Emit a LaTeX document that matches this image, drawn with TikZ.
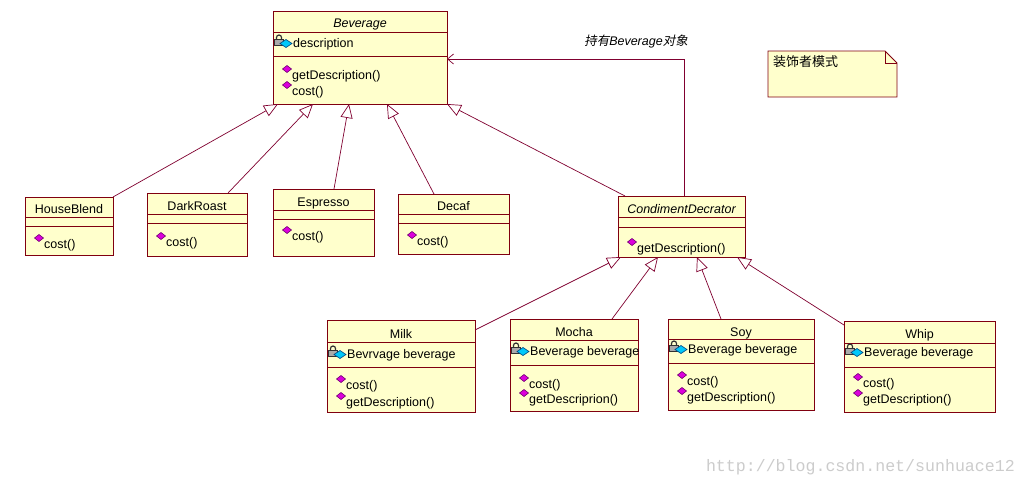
\documentclass[tikz,border=0pt]{standalone}
\usepackage{fontspec}
\setmainfont{Liberation Sans}
\newfontfamily\cjk{Noto Sans CJK SC}
\newfontfamily\cjkslant[FakeSlant=0.2]{Noto Sans CJK SC}
\newfontfamily\wmfont{Liberation Mono}
\usepackage{xcolor}
\usepackage{tikz}
\usetikzlibrary{arrows.meta}
\definecolor{clsfill}{RGB}{255,255,204}
\definecolor{clsdraw}{RGB}{128,0,16}
\definecolor{linecol}{RGB}{128,0,48}
\definecolor{opfill}{RGB}{220,0,220}
\definecolor{opdraw}{RGB}{110,0,110}
\definecolor{lockfill}{RGB}{170,170,170}
\definecolor{lockdraw}{RGB}{50,50,50}
\definecolor{keyfill}{RGB}{0,200,250}
\definecolor{keydraw}{RGB}{0,70,130}
\newcommand{\umlfont}{\fontsize{12.5}{15}\selectfont}
\tikzset{
  cls/.style={draw=clsdraw, fill=clsfill, line width=0.8pt, anchor=north west, inner sep=0pt, outer sep=0pt},
  cline/.style={draw=clsdraw, line width=0.8pt},
  ttl/.style={anchor=base, inner sep=0pt, font=\umlfont},
  mem/.style={anchor=base west, inner sep=0pt, font=\umlfont},
  gen/.style={draw=linecol, line width=0.7pt, -{Triangle[open, length=14pt, width=12pt]}},
  assoc/.style={draw=linecol, line width=0.7pt, -{Straight Barb[length=6pt, width=10pt]}},
  opicon/.pic={\filldraw[fill=opfill, draw=opdraw, line width=0.6pt] (-4.5,0) -- (0,-3.5) -- (4.5,0) -- (0,3.5) -- cycle;},
  attricon/.pic={
    \draw[draw=lockdraw, line width=1.2pt] (-7.5,-1) -- (-7.5,-3.5) arc[start angle=180, end angle=360, radius=2.5] -- (-2.5,-1);
    \filldraw[fill=lockfill, draw=lockdraw, line width=0.7pt] (-9.5,-1.5) rectangle (-0.5,4.5);
    \filldraw[fill=keyfill, draw=keydraw, line width=0.6pt] (-4,2.5) -- (2,-1.5) -- (8,2.5) -- (2,6.5) -- cycle;},
}
% one member line: name, box left, baseline, text
\newcommand{\attritem}[4]{%
  \pic at (#2+11,#3-6) {attricon};
  \node[mem] (#1) at (#2+20,#3) {#4};}
\newcommand{\opitem}[4]{%
  \pic at (#2+14,#3-10) {opicon};
  \node[mem] (#1) at (#2+19,#3) {#4};}

\begin{document}
\begin{tikzpicture}[x=1pt,y=-1pt]
  \useasboundingbox[fill=white] (0,0) rectangle (1027,485);
  %
  % Beverage
  \node[cls, minimum width=174pt, minimum height=93pt] (bev) at (273,11) {};
  \draw[cline] (bev.west |- 0,32) -- (bev.east |- 0,32);
  \draw[cline] (bev.west |- 0,56) -- (bev.east |- 0,56);
  \node[ttl] (bev-t) at (bev.north |- 0,27) {\itshape Beverage};
  \attritem{bev-a}{273}{47}{description}
  \opitem{bev-m1}{273}{79}{getDescription()}
  \opitem{bev-m2}{273}{95}{cost()}
  %
  % concrete beverages
  \node[cls, minimum width=88pt, minimum height=58pt] (hb) at (25,197) {};
  \draw[cline] (hb.west |- 0,217) -- (hb.east |- 0,217);
  \draw[cline] (hb.west |- 0,226) -- (hb.east |- 0,226);
  \node[ttl] (hb-t) at (hb.north |- 0,213) {HouseBlend};
  \opitem{hb-m1}{25}{248}{cost()}
  %
  \node[cls, minimum width=100pt, minimum height=63pt] (dr) at (147,193) {};
  \draw[cline] (dr.west |- 0,214) -- (dr.east |- 0,214);
  \draw[cline] (dr.west |- 0,223) -- (dr.east |- 0,223);
  \node[ttl] (dr-t) at (dr.north |- 0,210) {DarkRoast};
  \opitem{dr-m1}{147}{246}{cost()}
  %
  \node[cls, minimum width=101pt, minimum height=67pt] (es) at (273,189) {};
  \draw[cline] (es.west |- 0,210) -- (es.east |- 0,210);
  \draw[cline] (es.west |- 0,219) -- (es.east |- 0,219);
  \node[ttl] (es-t) at (es.north |- 0,206) {Espresso};
  \opitem{es-m1}{273}{240}{cost()}
  %
  \node[cls, minimum width=111pt, minimum height=60pt] (dc) at (398,194) {};
  \draw[cline] (dc.west |- 0,214) -- (dc.east |- 0,214);
  \draw[cline] (dc.west |- 0,223) -- (dc.east |- 0,223);
  \node[ttl] (dc-t) at (dc.north |- 0,210) {Decaf};
  \opitem{dc-m1}{398}{245}{cost()}
  %
  % decorator
  \node[cls, minimum width=127pt, minimum height=61pt] (cd) at (618,196) {};
  \draw[cline] (cd.west |- 0,217) -- (cd.east |- 0,217);
  \draw[cline] (cd.west |- 0,227) -- (cd.east |- 0,227);
  \node[ttl] (cd-t) at (cd.north |- 0,213) {\itshape CondimentDecrator};
  \opitem{cd-m1}{618}{252}{getDescription()}
  %
  % condiments
  \node[cls, minimum width=148pt, minimum height=92pt] (ml) at (327,320) {};
  \draw[cline] (ml.west |- 0,342) -- (ml.east |- 0,342);
  \draw[cline] (ml.west |- 0,367) -- (ml.east |- 0,367);
  \node[ttl] (ml-t) at (ml.north |- 0,338) {Milk};
  \attritem{ml-a}{327}{358}{Bevrvage beverage}
  \opitem{ml-m1}{327}{389}{cost()}
  \opitem{ml-m2}{327}{406}{getDescription()}
  %
  \node[cls, minimum width=128pt, minimum height=92pt] (mo) at (510,319) {};
  \draw[cline] (mo.west |- 0,340) -- (mo.east |- 0,340);
  \draw[cline] (mo.west |- 0,365) -- (mo.east |- 0,365);
  \node[ttl] (mo-t) at (mo.north |- 0,336) {Mocha};
  \attritem{mo-a}{510}{355}{Beverage beverage}
  \opitem{mo-m1}{510}{388}{cost()}
  \opitem{mo-m2}{510}{403}{getDescriprion()}
  %
  \node[cls, minimum width=146pt, minimum height=91pt] (sy) at (668,319) {};
  \draw[cline] (sy.west |- 0,339) -- (sy.east |- 0,339);
  \draw[cline] (sy.west |- 0,363) -- (sy.east |- 0,363);
  \node[ttl] (sy-t) at (sy.north |- 0,336) {Soy};
  \attritem{sy-a}{668}{353}{Beverage beverage}
  \opitem{sy-m1}{668}{385}{cost()}
  \opitem{sy-m2}{668}{401}{getDescription()}
  %
  \node[cls, minimum width=151pt, minimum height=91pt] (wh) at (844,321) {};
  \draw[cline] (wh.west |- 0,343) -- (wh.east |- 0,343);
  \draw[cline] (wh.west |- 0,367) -- (wh.east |- 0,367);
  \node[ttl] (wh-t) at (wh.north |- 0,338) {Whip};
  \attritem{wh-a}{844}{356}{Beverage beverage}
  \opitem{wh-m1}{844}{387}{cost()}
  \opitem{wh-m2}{844}{403}{getDescription()}
  %
  % generalisations
  \draw[gen] (hb.north east) -- ([xshift=5pt]bev.south west);
  \draw[gen] ([xshift=81pt]dr.north west) -- ([xshift=40pt]bev.south west);
  \draw[gen] ([xshift=61pt]es.north west) -- ([xshift=76pt]bev.south west);
  \draw[gen] ([xshift=36pt]dc.north west) -- ([xshift=114pt]bev.south west);
  \draw[gen] ([xshift=7pt]cd.north west) -- (bev.south east);
  \draw[gen] ([yshift=-10pt]ml.north east) -- ([xshift=3pt]cd.south west);
  \draw[gen] ([xshift=102pt]mo.north west) -- ([xshift=40pt]cd.south west);
  \draw[gen] ([xshift=53pt]sy.north west) -- ([xshift=79pt]cd.south west);
  \draw[gen] ([yshift=-4pt]wh.north west) -- ([xshift=119pt]cd.south west);
  %
  % association
  \draw[assoc] ([xshift=3pt]cd.north) |- (bev.east |- 0,59);
  \node[anchor=base, inner sep=0pt, font=\umlfont] (hold) at (636,45)
    {{\cjkslant 持有}{\itshape Beverage}{\cjkslant 对象}};
  %
  % note
  \filldraw[fill=clsfill, draw=clsdraw, line width=0.8pt]
    (768,51) -- (885,51) -- (897,63) -- (897,97) -- (768,97) -- cycle;
  \draw[cline] (885,51) -- (885,63) -- (897,63);
  \node[anchor=base west, inner sep=0pt, font=\fontsize{13}{15}\selectfont\cjk] (note) at (773,66) {装饰者模式};
  %
  \node[anchor=base east, inner sep=0pt, text=black!20, font=\fontsize{16.6}{18}\selectfont\wmfont] (wmark) at (1015,471) {http://blog.csdn.net/sunhuace12};
\end{tikzpicture}
\end{document}
